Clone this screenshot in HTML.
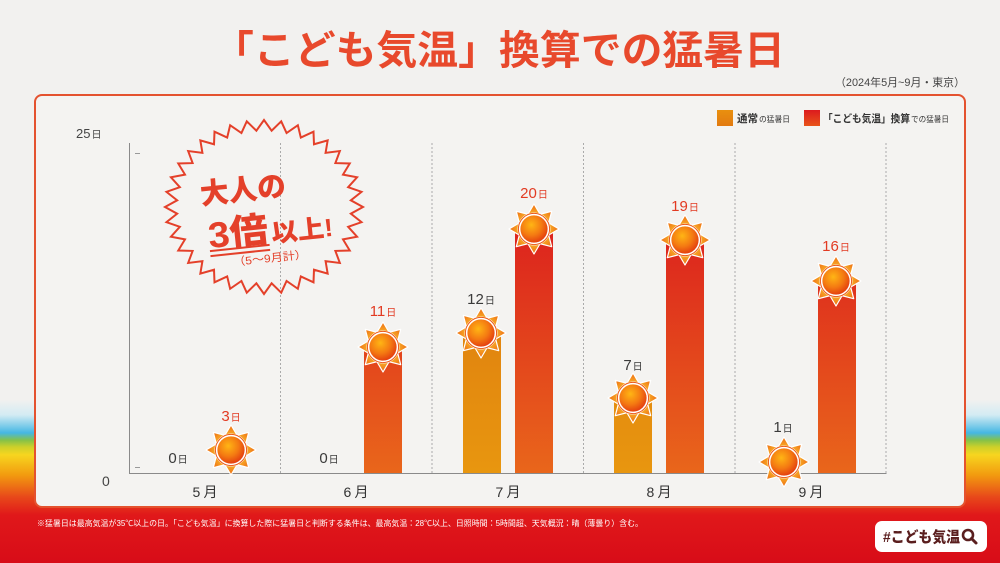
<!DOCTYPE html>
<html><head><meta charset="utf-8"><style>
html,body{margin:0;padding:0;width:1000px;height:563px;overflow:hidden;background:#f2f1ef}
svg{display:block}
text{font-family:"Liberation Sans","Noto Sans CJK JP",sans-serif}
</style></head><body>
<svg width="1000" height="563" viewBox="0 0 1000 563" xmlns="http://www.w3.org/2000/svg">
<defs>
<linearGradient id="bg" x1="0" y1="0" x2="0" y2="1">
<stop offset="0" stop-color="#f2f1ef"/>
<stop offset="0.71" stop-color="#f2f1ef"/>
<stop offset="0.737" stop-color="#d3ebf3"/>
<stop offset="0.769" stop-color="#45b7e3"/>
<stop offset="0.782" stop-color="#86c248"/>
<stop offset="0.794" stop-color="#cdd02a"/>
<stop offset="0.808" stop-color="#f7d51f"/>
<stop offset="0.844" stop-color="#f29a0f"/>
<stop offset="0.883" stop-color="#e8481a"/>
<stop offset="0.915" stop-color="#e0181a"/>
<stop offset="1" stop-color="#d80c18"/>
</linearGradient>
<linearGradient id="redbar" gradientUnits="userSpaceOnUse" x1="0" y1="200" x2="0" y2="473">
<stop offset="0" stop-color="#db1b1e"/><stop offset="1" stop-color="#e9661b"/>
</linearGradient>
<linearGradient id="orbar" gradientUnits="userSpaceOnUse" x1="0" y1="330" x2="0" y2="473">
<stop offset="0" stop-color="#e1840f"/><stop offset="1" stop-color="#e8960f"/>
</linearGradient>
<linearGradient id="sw1" x1="0" y1="0" x2="0" y2="1"><stop offset="0" stop-color="#e9900f"/><stop offset="1" stop-color="#e27a10"/></linearGradient>
<linearGradient id="sw2" x1="0" y1="0" x2="0" y2="1"><stop offset="0" stop-color="#dc1a1e"/><stop offset="1" stop-color="#e8541a"/></linearGradient>
<radialGradient id="body" cx="0.4" cy="0.35" r="0.7">
<stop offset="0" stop-color="#ffb514"/><stop offset="0.55" stop-color="#f47a12"/><stop offset="1" stop-color="#e2380f"/>
</radialGradient>
<linearGradient id="ray" x1="0" y1="0" x2="1" y2="0">
<stop offset="0" stop-color="#f9b52a"/><stop offset="1" stop-color="#ee6a12"/>
</linearGradient>
<g id="sun">
<g stroke="#fff" stroke-width="1.2" stroke-linejoin="round" fill="url(#ray)">
<polygon points="14,-6.5 25,0 14,6.5"/>
<polygon points="14,-6.5 25,0 14,6.5" transform="rotate(45)"/>
<polygon points="14,-6.5 25,0 14,6.5" transform="rotate(90)"/>
<polygon points="14,-6.5 25,0 14,6.5" transform="rotate(135)"/>
<polygon points="14,-6.5 25,0 14,6.5" transform="rotate(180)"/>
<polygon points="14,-6.5 25,0 14,6.5" transform="rotate(225)"/>
<polygon points="14,-6.5 25,0 14,6.5" transform="rotate(270)"/>
<polygon points="14,-6.5 25,0 14,6.5" transform="rotate(315)"/>
</g>
<circle r="16.5" fill="#fff"/>
<circle r="15.6" fill="none" stroke="#ec5a1a" stroke-width="1"/>
<circle r="13.6" fill="url(#body)"/>
</g>
</defs>

<rect x="0" y="0" width="1000" height="563" fill="url(#bg)"/>

<!-- title -->
<text x="499" y="64" text-anchor="middle" font-size="40" font-weight="700" fill="#e8492c" textLength="572" lengthAdjust="spacingAndGlyphs">「こども気温」換算での猛暑日</text>
<text x="965" y="86" text-anchor="end" font-size="11" fill="#444" textLength="130" lengthAdjust="spacingAndGlyphs">（2024年5月~9月・東京）</text>

<!-- panel -->
<rect x="35" y="95" width="930" height="412" rx="7" fill="#f4f3f1" stroke="#e4522f" stroke-width="2"/>

<!-- legend -->
<rect x="717" y="110" width="16" height="16" fill="url(#sw1)"/>
<text x="737" y="122" font-size="10.5" font-weight="bold" fill="#333" textLength="21" lengthAdjust="spacingAndGlyphs">通常</text>
<text x="759" y="122" font-size="7.7" fill="#333" textLength="31" lengthAdjust="spacingAndGlyphs">の猛暑日</text>
<rect x="804" y="110" width="16" height="16" fill="url(#sw2)"/>
<text x="823" y="122" font-size="10.5" font-weight="bold" fill="#333" textLength="87" lengthAdjust="spacingAndGlyphs">「こども気温」換算</text>
<text x="911" y="122" font-size="7.7" fill="#333" textLength="38" lengthAdjust="spacingAndGlyphs">での猛暑日</text>

<!-- axes -->
<g stroke="#aaa" stroke-width="1" stroke-dasharray="2,2">
<line x1="280.5" y1="143" x2="280.5" y2="473"/>
<line x1="432" y1="143" x2="432" y2="473"/>
<line x1="583.5" y1="143" x2="583.5" y2="473"/>
<line x1="735" y1="143" x2="735" y2="473"/>
<line x1="886" y1="143" x2="886" y2="473"/>
</g>
<line x1="129.5" y1="143" x2="129.5" y2="473.5" stroke="#8a8a8a" stroke-width="1"/>
<line x1="129" y1="473.5" x2="886.5" y2="473.5" stroke="#8a8a8a" stroke-width="1"/>
<line x1="135" y1="153.5" x2="140" y2="153.5" stroke="#999" stroke-width="1"/>
<line x1="135" y1="467.5" x2="140" y2="467.5" stroke="#999" stroke-width="1"/>
<text x="76" y="138" font-size="13" fill="#444"><tspan>25</tspan><tspan font-size="10" dx="1">日</tspan></text>
<text x="102" y="486" font-size="14" fill="#444">0</text>

<!-- month labels -->
<g font-size="14" fill="#333" text-anchor="middle">
<text x="205" y="497" textLength="25" lengthAdjust="spacing">5月</text>
<text x="356" y="497" textLength="25" lengthAdjust="spacing">6月</text>
<text x="508" y="497" textLength="25" lengthAdjust="spacing">7月</text>
<text x="659" y="497" textLength="25" lengthAdjust="spacing">8月</text>
<text x="811" y="497" textLength="25" lengthAdjust="spacing">9月</text>
</g>

<!-- bars -->
<rect x="364" y="347" width="38" height="126" fill="url(#redbar)"/>
<rect x="463" y="333" width="38" height="140" fill="url(#orbar)"/>
<rect x="515" y="229" width="38" height="244" fill="url(#redbar)"/>
<rect x="614" y="398" width="38" height="75" fill="url(#orbar)"/>
<rect x="666" y="240" width="38" height="233" fill="url(#redbar)"/>
<rect x="818" y="281" width="38" height="192" fill="url(#redbar)"/>

<!-- suns -->
<use href="#sun" x="231" y="450"/>
<use href="#sun" x="383" y="347"/>
<use href="#sun" x="481" y="333"/>
<use href="#sun" x="534" y="229"/>
<use href="#sun" x="633" y="398"/>
<use href="#sun" x="685" y="240"/>
<use href="#sun" x="784" y="462"/>
<use href="#sun" x="836" y="281"/>

<!-- value labels -->
<g text-anchor="middle" font-size="15">
<text x="231" y="421" fill="#e23a22">3<tspan font-size="10" dx="1">日</tspan></text>
<text x="383" y="316" fill="#e23a22">11<tspan font-size="10" dx="1">日</tspan></text>
<text x="534" y="198" fill="#e23a22">20<tspan font-size="10" dx="1">日</tspan></text>
<text x="685" y="211" fill="#e23a22">19<tspan font-size="10" dx="1">日</tspan></text>
<text x="836" y="251" fill="#e23a22">16<tspan font-size="10" dx="1">日</tspan></text>
<text x="481" y="304" fill="#3a3a3a">12<tspan font-size="10" dx="1">日</tspan></text>
<text x="633" y="370" fill="#3a3a3a">7<tspan font-size="10" dx="1">日</tspan></text>
<text x="783" y="432" fill="#3a3a3a">1<tspan font-size="10" dx="1">日</tspan></text>
<text x="178" y="463" fill="#3a3a3a">0<tspan font-size="10" dx="1">日</tspan></text>
<text x="329" y="463" fill="#3a3a3a">0<tspan font-size="10" dx="1">日</tspan></text>
</g>

<!-- badge -->
<g transform="translate(264,207) scale(0.99,0.87)">
<polygon vector-effect="non-scaling-stroke" fill="none" stroke="#e4402a" stroke-width="2" stroke-linejoin="miter" points="100,0 87.7,7.7 98.5,17.4 85,22.8 94,34.2 79.8,37.2 86.6,50 72.1,50.5 76.6,64.3 62.2,62.2 64.3,76.6 50.5,72.1 50,86.6 37.2,79.8 34.2,94 22.8,85 17.4,98.5 7.7,87.7 0,100 -7.7,87.7 -17.4,98.5 -22.8,85 -34.2,94 -37.2,79.8 -50,86.6 -50.5,72.1 -64.3,76.6 -62.2,62.2 -76.6,64.3 -72.1,50.5 -86.6,50 -79.8,37.2 -94,34.2 -85,22.8 -98.5,17.4 -87.7,7.7 -100,0 -87.7,-7.7 -98.5,-17.4 -85,-22.8 -94,-34.2 -79.8,-37.2 -86.6,-50 -72.1,-50.5 -76.6,-64.3 -62.2,-62.2 -64.3,-76.6 -50.5,-72.1 -50,-86.6 -37.2,-79.8 -34.2,-94 -22.8,-85 -17.4,-98.5 -7.7,-87.7 0,-100 7.7,-87.7 17.4,-98.5 22.8,-85 34.2,-94 37.2,-79.8 50,-86.6 50.5,-72.1 64.3,-76.6 62.2,-62.2 76.6,-64.3 72.1,-50.5 86.6,-50 79.8,-37.2 94,-34.2 85,-22.8 98.5,-17.4 87.7,-7.7"/>
</g>
<g fill="#e4402a" font-weight="900" text-anchor="middle">
<text x="243" y="200" font-size="29" textLength="86" lengthAdjust="spacingAndGlyphs" transform="rotate(-6 243 190)">大人の</text>
<text x="238" y="245" font-size="36" textLength="60" lengthAdjust="spacingAndGlyphs" transform="rotate(-6 238 232)">3倍</text>
<text x="302" y="239" font-size="25" textLength="62" lengthAdjust="spacingAndGlyphs" transform="rotate(-6 302 230)">以上!</text>
<text x="270" y="262" font-size="11" font-weight="normal" textLength="74" lengthAdjust="spacingAndGlyphs" transform="rotate(-6 270 258)">（5〜9月計）</text>
</g>
<g stroke="#e4402a" stroke-width="2" transform="rotate(-6 240 250)">
<line x1="210" y1="248" x2="270" y2="248"/>
<line x1="210" y1="253" x2="270" y2="253"/>
</g>

<!-- footnote -->
<text x="37" y="526" font-size="8" fill="#fff" textLength="606" lengthAdjust="spacingAndGlyphs">※猛暑日は最高気温が35℃以上の日。「こども気温」に換算した際に猛暑日と判断する条件は、最高気温：28℃以上、日照時間：5時間超、天気概況：晴（薄曇り）含む。</text>

<!-- hashtag button -->
<rect x="875" y="521" width="112" height="31" rx="7" fill="#fff"/>
<text x="883" y="542" font-size="15" font-weight="900" fill="#5a1e1e" textLength="77" lengthAdjust="spacingAndGlyphs">#こども気温</text>
<circle cx="968" cy="535" r="5" fill="none" stroke="#5a1e1e" stroke-width="2.6"/>
<line x1="971.5" y1="538.5" x2="976" y2="543" stroke="#5a1e1e" stroke-width="3" stroke-linecap="round"/>
</svg>
</body></html>
